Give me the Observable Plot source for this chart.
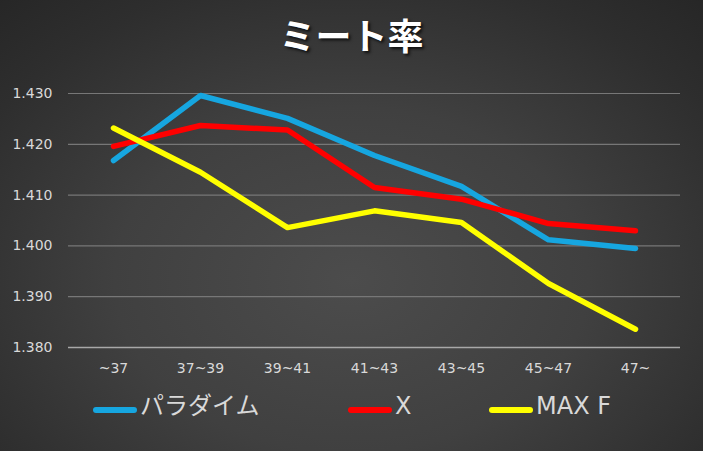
<!DOCTYPE html>
<html>
<head>
<meta charset="utf-8">
<script src="https://cdn.jsdelivr.net/npm/d3@7"></script>
<script src="https://cdn.jsdelivr.net/npm/@observablehq/plot@0.6"></script>
<style>
  html, body { margin: 0; padding: 0; background: #2a2a2a; }
  #wrap {
    position: relative; width: 703px; height: 451px; overflow: hidden;
    background: radial-gradient(ellipse 75% 85% at 50% 62%, #4c4c4c 0%, #404040 45%, #2e2e2e 80%, #262626 100%);
    font-family: "DejaVu Sans", "Noto Sans CJK JP", sans-serif;
  }
  #title {
    position: absolute; left: 0; width: 703px; top: 12px; text-align: center;
    font-family: "Noto Sans CJK JP", sans-serif; font-weight: 700; font-size: 36px;
    color: #ffffff; line-height: 44px; text-shadow: 2px 2px 3px rgba(0,0,0,0.75);
  }
  #plot { position: absolute; left: 0; top: 0; }
  .leg { position: absolute; top: 391px; height: 30px; display: flex; align-items: center; }
  .sw { width: 44px; height: 6px; border-radius: 3px; margin-right: 3px; margin-top: 7px; }
  .lt { font-size: 24px; color: #d9d9d9; line-height: 30px; font-family: "DejaVu Sans", "Noto Sans CJK JP", sans-serif; }
</style>
</head>
<body>
<div id="wrap">
  <div id="plot"></div>
  <div id="title">ミート率</div>
</div>
<script>
const categories = ["~37", "37~39", "39~41", "41~43", "43~45", "45~47", "47~"];
const seriesNames = ["パラダイム", "X", "MAX F"];
const seriesColors = ["#16a6e0", "#ff0000", "#ffff00"];
const paradigm = [1.4168, 1.4296, 1.4251, 1.4178, 1.4117, 1.4012, 1.3995];
const xSeries  = [1.4196, 1.4237, 1.4228, 1.4115, 1.4092, 1.4044, 1.4030];
const maxF     = [1.4232, 1.4145, 1.4036, 1.4069, 1.4046, 1.3926, 1.3836];
const yTicks = [1.380, 1.390, 1.400, 1.410, 1.420, 1.430];

const seriesValues = [paradigm, xSeries, maxF];
const data = [];
seriesNames.forEach((s, i) => categories.forEach((c, j) => data.push({series: s, cat: c, value: seriesValues[i][j]})));

const plot = Plot.plot({
  width: 703,
  height: 451,
  marginLeft: 68,
  marginRight: 23,
  marginTop: 93,
  marginBottom: 104,
  style: { background: "transparent", overflow: "visible" },
  x: { type: "point", domain: categories, padding: 0.5, label: null },
  y: { domain: [1.380, 1.430], label: null },
  color: { domain: seriesNames, range: seriesColors },
  marks: [
    Plot.ruleY(yTicks.filter(t => t !== 1.380), { stroke: "#777777", strokeWidth: 1.2 }),
    Plot.ruleY([1.380], { stroke: "#a8a8a8", strokeWidth: 1.6 }),
    Plot.axisY({ ticks: yTicks, tickSize: 0, tickPadding: 16, tickFormat: d => d.toFixed(3),
      fill: "#d9d9d9", fontSize: 14, label: null }),
    Plot.axisX({ tickSize: 0, tickPadding: 16, fill: "#d9d9d9", fontSize: 14, label: null }),
    Plot.line(data, { x: "cat", y: "value", z: "series", stroke: "series", strokeWidth: 5.5,
      strokeLinecap: "round", strokeLinejoin: "round",
      style: "filter: drop-shadow(1px 2px 1.5px rgba(0,0,0,0.55))" })
  ]
});
plot.querySelectorAll("text").forEach(t => t.style.fontFamily = '"DejaVu Sans", sans-serif');
document.getElementById("plot").appendChild(plot);

const legLefts = [93, 348, 489];
const wrap = document.getElementById("wrap");
seriesNames.forEach((s, i) => {
  const d = document.createElement("div");
  d.className = "leg";
  d.style.left = legLefts[i] + "px";
  const sw = document.createElement("div");
  sw.className = "sw";
  sw.style.background = seriesColors[i];
  const lt = document.createElement("span");
  lt.className = "lt";
  lt.textContent = s;
  d.appendChild(sw); d.appendChild(lt);
  wrap.appendChild(d);
});
</script>
</body>
</html>
